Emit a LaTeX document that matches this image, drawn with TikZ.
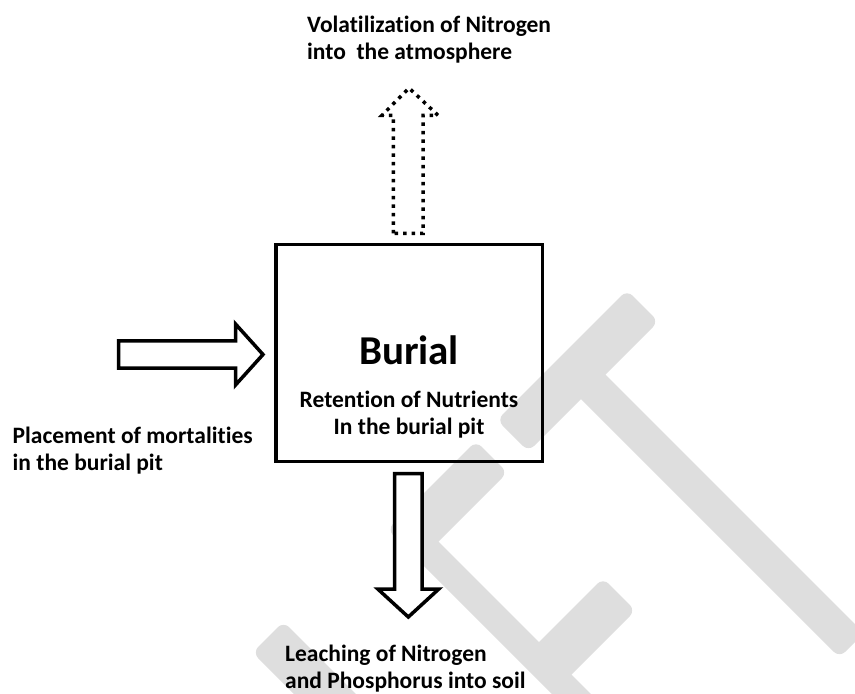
\documentclass[tikz,border=0pt]{standalone}
\usepackage{fontspec}
\setmainfont{Carlito}[Ligatures=NoCommon]
\definecolor{wm}{RGB}{222,222,222}
\begin{document}
\begin{tikzpicture}[x=1pt,y=-1pt,
  lbl/.style={font=\fontsize{23.5}{27}\selectfont\bfseries, inner sep=0pt, align=left},
  bigl/.style={font=\fontsize{41}{49}\selectfont\bfseries, inner sep=0pt},
  mainbox/.style={draw=black, line width=3.5pt, inner sep=0pt},
  blockarrow/.style={draw=black, line width=3.5pt, fill=white, line join=miter},
  dotarrow/.style={draw=black, line width=3.5pt, dash pattern=on 3.5pt off 5pt, fill=white},
  wmark/.style={fill=wm, rounded corners=8pt}]
\useasboundingbox (0,0) rectangle (855,694);
% watermark
\begin{scope}
\clip (0,0) rectangle (855,694);
\begin{scope}[x={(0.5pt,0.5pt)}, y={(0.5pt,-0.5pt)}]
 % T
 \fill[wmark] (77,917) -- (337,917) -- (337,980) -- (77,980) -- cycle;
 \fill[wmark] (182,960) -- (231,960) -- (231,1497) -- (182,1497) -- cycle;
 % E
 \fill[wmark] (-142,917) -- (35,917) -- (35,980) -- (-142,980) -- cycle;
 \fill[wmark] (-142,917) -- (-103,917) -- (-103,1600) -- (-142,1600) -- cycle;
 \fill[wmark] (-130,1181) -- (25,1181) -- (25,1246) -- (-130,1246) -- cycle;
 % previous letter stroke
 \fill[wmark] (-400,905) -- (-338,905) -- (-338,1600) -- (-400,1600) -- cycle;
\end{scope}
\end{scope}
% main box
\node[mainbox, minimum width=266.7pt, minimum height=217pt] (box) at (409.35,353.2) {};
\node[bigl, anchor=base] (burial) at (409,364) {Burial};
\node[lbl, align=center, anchor=base] (ret) at (409,434) {Retention of Nutrients\\In the burial pit};
% arrows
\draw[blockarrow] (118.5,340.8) -- (235.5,340.8) -- (235.5,324) -- (263,354.5) -- (235.5,385) -- (235.5,368) -- (118.5,368) -- cycle;
\draw[blockarrow] (394.6,473.5) -- (422,473.5) -- (422,589) -- (438.8,589) -- (408.3,617) -- (377.8,589) -- (394.6,589) -- cycle;
\draw[dotarrow] (393.3,233.3) -- (393.3,115.3) -- (382,115.3) -- (409,88) -- (438,115.3) -- (423,115.3) -- (423,233.3) -- cycle;
% labels
\node[lbl, anchor=base west] (vol) at (307,59) {Volatilization of Nitrogen\\into\ \ the atmosphere};
\node[lbl, anchor=base west] (place) at (12.5,470) {Placement of mortalities\\in the burial pit};
\node[lbl, anchor=base west] (leach) at (285,688) {Leaching of Nitrogen\\and Phosphorus into soil};
\end{tikzpicture}
\end{document}
